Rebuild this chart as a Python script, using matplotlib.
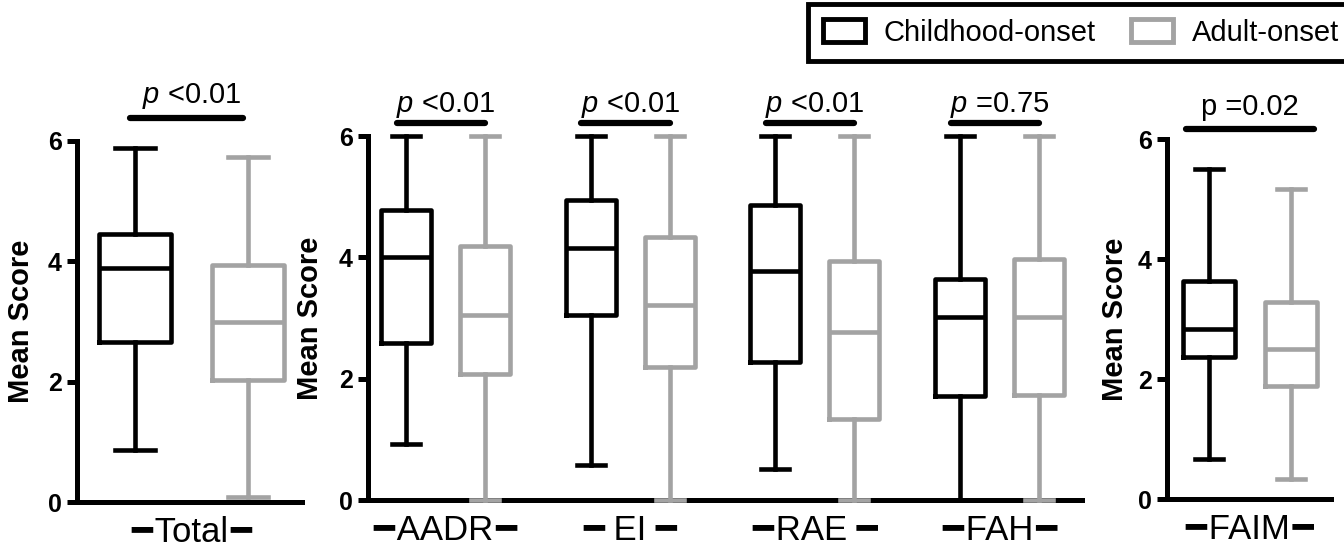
import matplotlib
matplotlib.use('Agg')
from matplotlib import pyplot as plt
from matplotlib.patches import Patch

plt.rcParams['font.family'] = ['Liberation Sans', 'DejaVu Sans']
plt.rcParams['mathtext.fontset'] = 'custom'
plt.rcParams['mathtext.it'] = 'Liberation Sans:italic'
plt.rcParams['mathtext.rm'] = 'Liberation Sans'

# Dados (whisker min, Q1, mediana, Q3, whisker max)
cat_total = ['Total']
child_total = [[0.86, 2.66, 3.89, 4.45, 5.88]]
adult_total = [[0.08, 2.03, 2.99, 3.94, 5.73]]
p_total = ['$p$ <0.01']

cat_mid = ['AADR', 'EI', 'RAE', 'FAH']
child_mid = [[0.92, 2.59, 4.01, 4.78, 6.0],
             [0.57, 3.05, 4.16, 4.95, 6.0],
             [0.51, 2.27, 3.77, 4.87, 6.0],
             [0.0, 1.72, 3.02, 3.65, 6.0]]
adult_mid = [[0.0, 2.07, 3.05, 4.19, 6.0],
             [0.0, 2.19, 3.22, 4.34, 6.0],
             [0.0, 1.34, 2.77, 3.94, 6.0],
             [0.0, 1.73, 3.02, 3.98, 6.0]]
p_mid = ['$p$ <0.01', '$p$ <0.01', '$p$ <0.01', '$p$ =0.75']

cat_faim = ['FAIM']
child_faim = [[0.67, 2.37, 2.84, 3.64, 5.50]]
adult_faim = [[0.34, 1.89, 2.51, 3.29, 5.17]]
p_faim = ['p =0.02']

d = '\u2501'
s = '\u200a'
xlabels_total = [d + s + 'Total' + s + d]
xlabels_mid = [d + s + 'AADR' + s + d, d + ' EI ' + d, d + s + 'RAE ' + d, d + s + 'FAH' + s + d]
xlabels_faim = [d + s + 'FAIM' + s + d]

cinza = '#a3a3a3'
lw = 3.3


def stats(vals):
    return [dict(whislo=v[0], q1=v[1], med=v[2], q3=v[3], whishi=v[4]) for v in vals]


def painel(ax, child, adult, xlabels, ptexts, xlim, bar_y, txt_y, bar_ext, label_x):
    n = len(child)
    pos_c = [i - 0.214 for i in range(n)]
    pos_a = [i + 0.214 for i in range(n)]
    for dados, pos, cor in [(child, pos_c, 'black'), (adult, pos_a, cinza)]:
        props = dict(color=cor, linewidth=lw)
        art = ax.bxp(stats(dados), positions=pos, widths=0.27, capwidths=0.15,
                     showfliers=False, boxprops=props, whiskerprops=props,
                     capprops=props, medianprops=props, zorder=3)
        for k in art:
            for a in art[k]:
                a.set_clip_on(False)
    for i in range(n):
        ax.plot([pos_c[i] - bar_ext[0], pos_a[i] + bar_ext[1]], [bar_y, bar_y], color='black',
                lw=4.5, solid_capstyle='round', clip_on=False)
        ax.text(i, txt_y, ptexts[i], ha='center', va='baseline', fontsize=21)
    ax.set_xlim(xlim)
    ax.set_ylim(0, 6)
    ax.set_yticks([0, 2, 4, 6])
    ax.set_xticks(range(n))
    ax.set_xticklabels(xlabels, fontsize=25)
    ax.tick_params(axis='x', length=0, pad=10)
    ax.tick_params(axis='y', length=7, width=3.6, pad=4, labelsize=18)
    for t in ax.get_yticklabels():
        t.set_fontweight('bold')
    for sp in ['top', 'right']:
        ax.spines[sp].set_visible(False)
    for sp in ['left', 'bottom']:
        ax.spines[sp].set_linewidth(3.6)
        ax.spines[sp].set_zorder(2)
    ax.set_ylabel('Mean Score', fontsize=21, fontweight='bold')
    ax.yaxis.set_label_coords(label_x, 0.5)


fig = plt.figure(figsize=(13.44, 5.51), dpi=100)
W, H = 1344, 551

ax1 = fig.add_axes([77 / W, 1 - 502 / H, 225 / W, 361 / H])
ax2 = fig.add_axes([368 / W, 1 - 500 / H, 714 / W, 364 / H])
ax3 = fig.add_axes([1167 / W, 1 - 499.3 / H, 164 / W, 360.3 / H])

painel(ax1, child_total, adult_total, xlabels_total, p_total, (-0.434, 0.419), 6.38, 6.63, (0.02, -0.02), -0.185)
painel(ax2, child_mid, adult_mid, xlabels_mid, p_mid, (-0.42, 3.447), 6.22, 6.40, (0.05, 0.0), -0.062)
painel(ax3, child_faim, adult_faim, xlabels_faim, p_faim, (-0.433, 0.423), 6.17, 6.40, (0.12, 0.12), -0.23)

handles = [Patch(facecolor='white', edgecolor='black', linewidth=3.5),
           Patch(facecolor='white', edgecolor=cinza, linewidth=3.5)]
leg = fig.legend(handles, ['Childhood-onset', 'Adult-onset'], loc='upper left',
                 bbox_to_anchor=(808 / W, 1 - 4 / H), ncol=2, frameon=True, fancybox=False,
                 edgecolor='black', framealpha=1, fontsize=21, handlelength=1.45,
                 handleheight=0.8, handletextpad=0.65, columnspacing=1.2,
                 borderpad=0.5, borderaxespad=0)
leg.get_frame().set_linewidth(3.5)

plt.savefig('out.png', dpi=100)
